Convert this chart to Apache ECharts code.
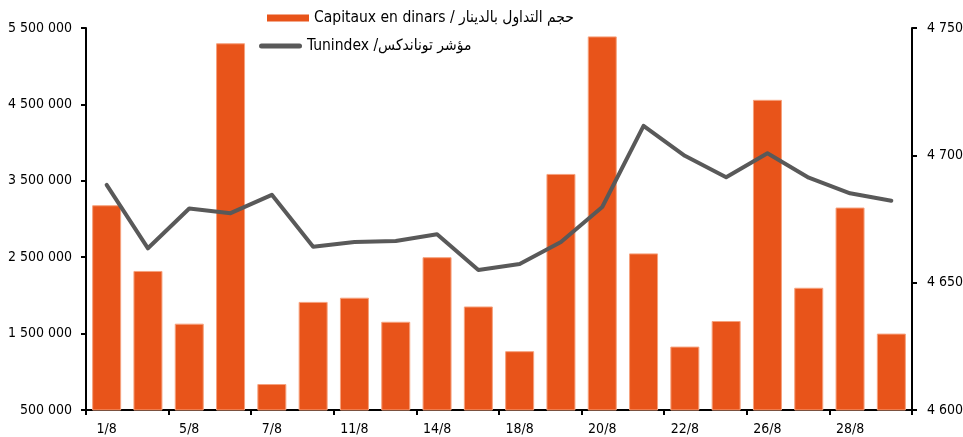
<!DOCTYPE html>
<html><head><meta charset="utf-8">
<script src="https://cdn.jsdelivr.net/npm/echarts@6/dist/echarts.min.js"></script>
<style>html,body{margin:0;padding:0;background:#fff}#c{width:963px;height:437px}</style>
</head><body><div id="c"></div>
<script>
const categories = ['1/8','4/8','5/8','6/8','7/8','8/8','11/8','12/8','14/8','15/8','18/8','19/8','20/8','21/8','22/8','25/8','26/8','27/8','28/8','29/8'];
const capitaux = [3180000,2320000,1630000,5300000,840000,1915000,1970000,1655000,2500000,1855000,1270000,3590000,5390000,2550000,1330000,1665000,4560000,2100000,3150000,1500000];
const tunindex = [4688.4,4663.5,4679.1,4677.3,4684.5,4664.1,4666.0,4666.4,4669.0,4655.0,4657.3,4666.0,4679.7,4711.6,4699.8,4691.4,4700.8,4691.2,4685.1,4682.2];
const barName = 'Capitaux en dinars / حجم التداول بالدينار';
const lineName = 'Tunindex /مؤشر توناندكس';
const FONT = '"Liberation Sans Narrow", "DejaVu Sans Condensed", sans-serif';
const fmt = v => String(Math.round(v)).replace(/\B(?=(\d{3})+(?!\d))/g, ' ');
const chart = echarts.init(document.getElementById('c'), null, {renderer:'canvas'});
chart.setOption({
  animation:false,
  textStyle:{fontFamily:FONT, color:'#000'},
  grid:{left:86, right:51, top:28, bottom:27, containLabel:false, outerBoundsMode:'none'},
  legend:[{
    left:262, top:5, itemWidth:42, itemHeight:7, itemGap:6,
    textStyle:{fontFamily:FONT, fontSize:15.5, color:'#000'},
    data:[{name:barName, icon:'rect', itemStyle:{borderWidth:0}}]
  },{
    left:254, top:33, itemWidth:43, itemHeight:5, itemGap:4,
    textStyle:{fontFamily:FONT, fontSize:15.5, color:'#000'},
    data:[{name:lineName, icon:'path://M2.5,0 L40.5,0 A2.5,2.5 0 0 1 40.5,5 L2.5,5 A2.5,2.5 0 0 1 2.5,0 Z', itemStyle:{color:'#595959', borderWidth:0}}]
  }],
  xAxis:{
    type:'category', data:categories, boundaryGap:true,
    axisLine:{lineStyle:{color:'#000', width:2}},
    axisTick:{show:true, alignWithLabel:false, length:5, lineStyle:{color:'#000', width:2}},
    axisLabel:{interval:1, fontFamily:FONT, fontSize:14, color:'#000', margin:12}
  },
  yAxis:[{
    type:'value', min:500000, max:5500000, interval:1000000, position:'left',
    axisLine:{show:true, lineStyle:{color:'#000', width:2}},
    axisTick:{show:true, length:5, lineStyle:{color:'#000', width:2}},
    splitLine:{show:false},
    axisLabel:{formatter:fmt, fontFamily:FONT, fontSize:14, color:'#000', margin:14}
  },{
    type:'value', min:4600, max:4750, interval:50, position:'right',
    axisLine:{show:true, lineStyle:{color:'#000', width:2}},
    axisTick:{show:true, length:5, lineStyle:{color:'#000', width:2}},
    splitLine:{show:false},
    axisLabel:{formatter:fmt, fontFamily:FONT, fontSize:14, color:'#000', margin:15}
  }],
  series:[{
    name:barName, type:'bar', data:capitaux, yAxisIndex:0, barWidth:29,
    itemStyle:{color:'#E8541A', borderColor:'#F6A27E', borderWidth:1}
  },{
    name:lineName, type:'line', data:tunindex, yAxisIndex:1, symbol:'none',
    lineStyle:{color:'#595959', width:4, cap:'round', join:'round'},
    itemStyle:{color:'#595959'}
  }]
});
</script></body></html>
